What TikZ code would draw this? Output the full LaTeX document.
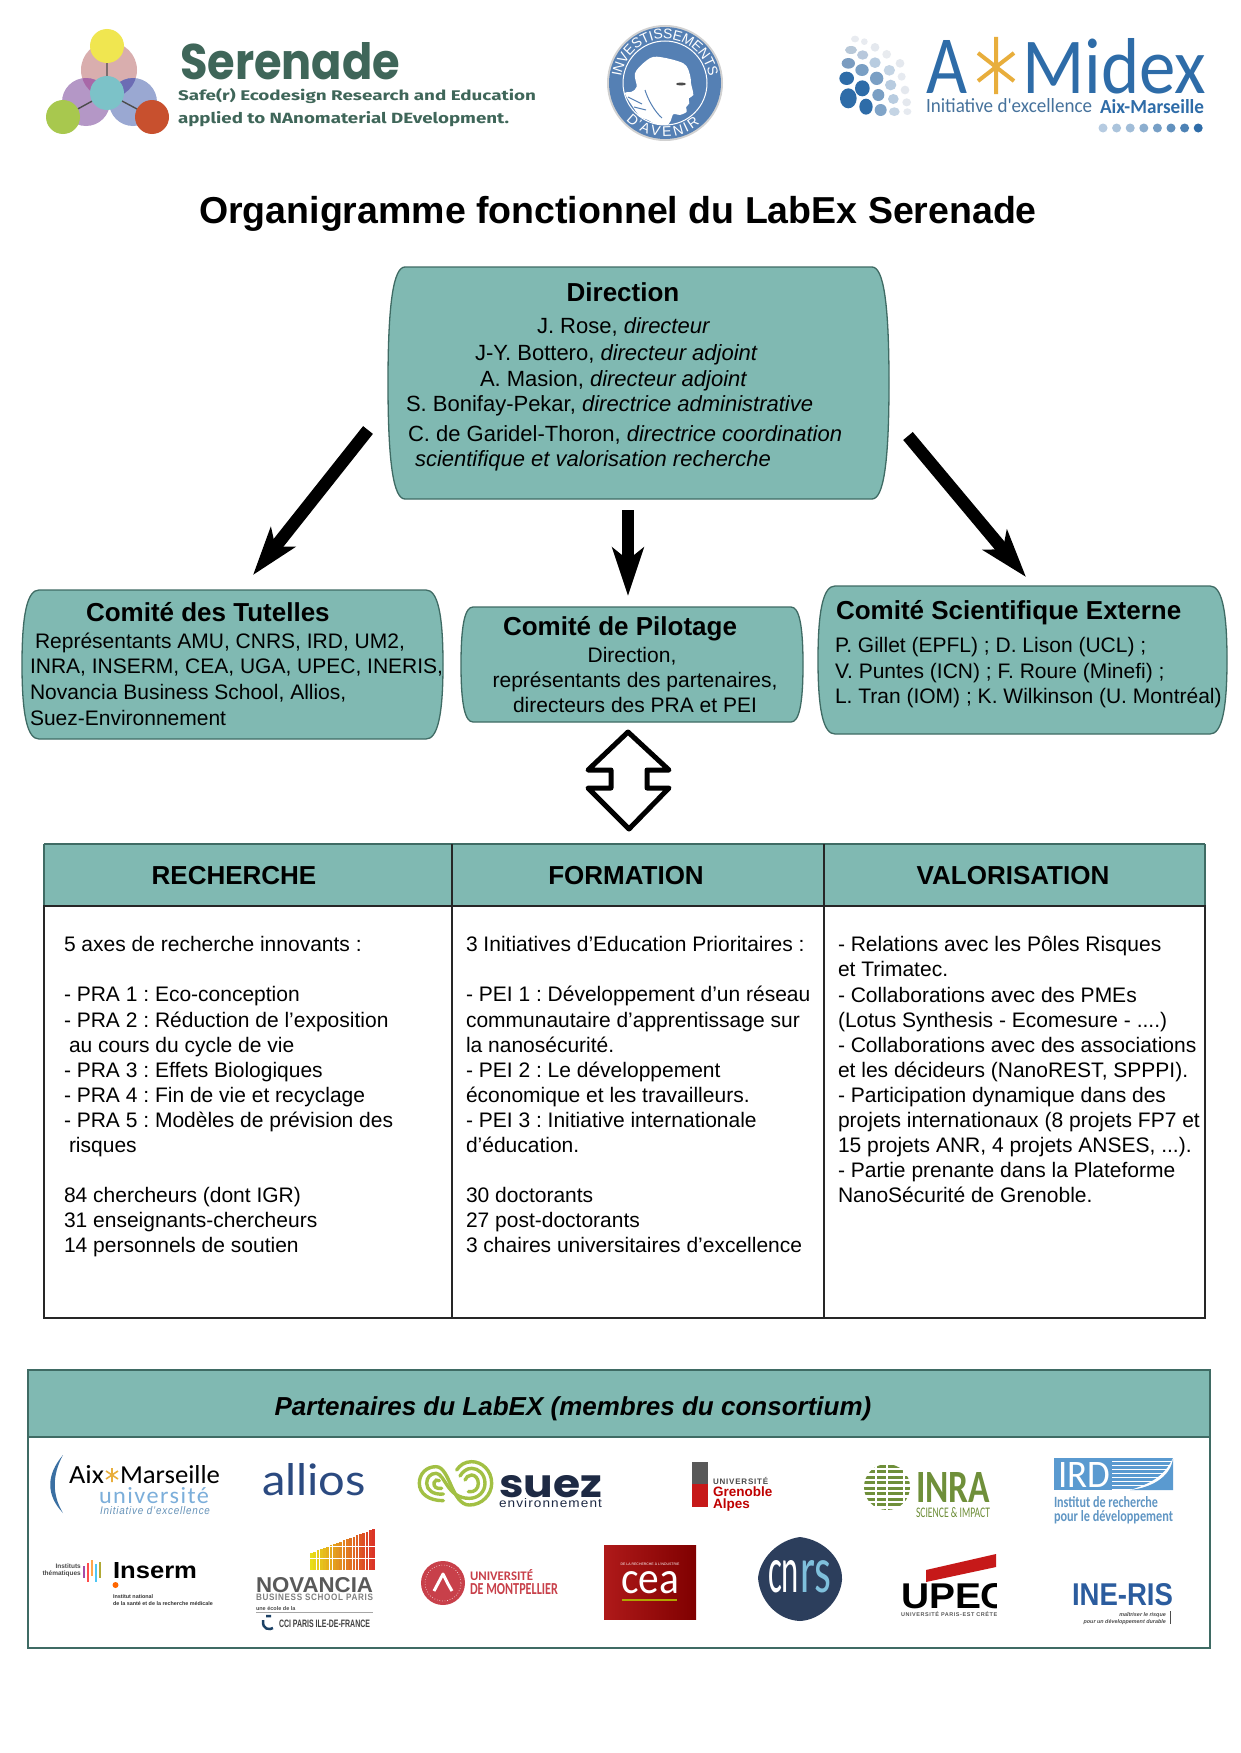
\documentclass[tikz,border=0pt]{standalone}
\usepackage{fontspec}
\usepackage{graphicx}
\setmainfont{Liberation Sans}
\newfontfamily\lato{Lato}
\newfontfamily\carl{Carlito}
\newfontfamily\pop{Poppins}
\newfontfamily\fira{Fira Sans}
\usetikzlibrary{arrows.meta,calc}
\AtBeginDocument{\frenchspacing}
\definecolor{teal1}{HTML}{80B9B2}
\definecolor{tealline}{HTML}{3F6B64}
\definecolor{seren}{HTML}{3F6659}
\definecolor{amblue}{HTML}{2E6CA8}
\definecolor{marblue}{HTML}{5580B4}
\definecolor{inragreen}{HTML}{6F8F3A}
\definecolor{suezgreen}{HTML}{A2C044}
\definecolor{navy}{HTML}{1E2A44}
\definecolor{irdblue}{HTML}{5A9AD0}
\definecolor{sy}{HTML}{F0E650}
\definecolor{sp}{HTML}{D9AEAE}
\definecolor{sv}{HTML}{B497C6}
\definecolor{sb}{HTML}{9AA8D2}
\definecolor{st}{HTML}{7CC2C8}
\definecolor{sg}{HTML}{A8C84E}
\definecolor{sr}{HTML}{C8502E}
\definecolor{spv}{HTML}{A868A8}
\definecolor{spb}{HTML}{6C6CB4}
\definecolor{svb}{HTML}{7C66B4}
\definecolor{umred}{HTML}{C8404A}
\definecolor{cnrsbg}{HTML}{2C3E5C}
\definecolor{cnrsrs}{HTML}{7FC0DC}
\definecolor{inblue}{HTML}{2B5C9E}
\definecolor{alblue}{HTML}{2B4A80}
\definecolor{staror}{HTML}{E8AE3C}
\newcommand\fsz[1]{\fontsize{#1}{#1}\selectfont}
\newcommand\fitb[3]{\resizebox{#1pt}{#2pt}{#3}}
\newcommand\bubble[6]{% name x1 y1 x2 y2 corner
  \draw[bubblebox] ({#2+#6},#3) -- ({#4-#6},#3)
    .. controls ({#4-#6/3},#3) and (#4,{#3+(#5-#3)*.15}) .. (#4,{(#3+#5)/2})
    .. controls (#4,{#5-(#5-#3)*.15}) and ({#4-#6/3},#5) .. ({#4-#6},#5)
    -- ({#2+#6},#5)
    .. controls ({#2+#6/3},#5) and (#2,{#5-(#5-#3)*.15}) .. (#2,{(#3+#5)/2})
    .. controls (#2,{#3+(#5-#3)*.15}) and ({#2+#6/3},#3) .. ({#2+#6},#3) -- cycle;
}
\tikzset{
  bubblebox/.style={draw=tealline,line width=1.3pt,fill=teal1},
  txt/.style={inner sep=0pt,outer sep=0pt,anchor=base west,font=\fsz{21}},
  dtxt/.style={inner sep=0pt,outer sep=0pt,anchor=base west,font=\fsz{22}},
  ctr/.style={inner sep=0pt,outer sep=0pt,anchor=base,font=\fsz{21}},
  ttl/.style={inner sep=0pt,outer sep=0pt,anchor=base west,font=\fsz{26}\bfseries},
  hdr/.style={inner sep=0pt,outer sep=0pt,anchor=base,font=\fsz{26}\bfseries},
  coltext/.style={inner sep=0pt,outer sep=0pt,anchor=north west,align=left,font=\fontsize{21}{25.1}\selectfont},
  bigarrow/.style={line width=12.5pt,-{Stealth[length=48pt,width=31pt,inset=12pt]}},
  lb/.style={inner sep=0pt,outer sep=0pt,anchor=base west},
  arcletter/.style={inner sep=0pt,outer sep=0pt,text=white,font=\fsz{14}},
}
\begin{document}
\begin{tikzpicture}[x=1pt,y=-1pt]
\useasboundingbox[fill=white] (0,0) rectangle (1240,1753);

%%% Serenade logo
\fill[sp] (109,70) circle (28);
\fill[sv] (86,102) circle (24);
\fill[sb] (133,102) circle (24);
\begin{scope}\clip (109,70) circle (28); \fill[spv] (86,102) circle (24); \fill[spb] (133,102) circle (24);\end{scope}
\begin{scope}\clip (86,102) circle (24); \fill[svb] (133,102) circle (24);\end{scope}
\coordinate (slc) at (107,93);
\coordinate (sly) at (107,46);
\coordinate (slg) at (63,117);
\coordinate (slr) at (152,117);
\draw[line width=1.4pt,black!70] (slc)--(sly) (slc)--(slg) (slc)--(slr);
\fill[sy] (sly) circle (17);
\fill[st] (slc) circle (17);
\fill[sg] (slg) circle (17);
\fill[sr] (slr) circle (17);
\node[lb,text=seren] (sertitle) at (180,79) {\fitb{220}{37}{\pop\bfseries Serenade}};
\node[lb,text=seren] (sersub1) at (178,100) {\fitb{358}{12}{\fira\bfseries Safe(r) Ecodesign Research and Education}};
\node[lb,text=seren] (sersub2) at (178,123) {\fitb{331}{12}{\fira\bfseries applied to NAnomaterial DEvelopment.}};

%%% Investissements d'avenir
\coordinate (mc) at (665,83);
\fill[black!18] (mc) circle (58);
\fill[marblue] (mc) circle (56);
\draw[white,line width=1pt] (mc) circle (42);
\begin{scope}
\clip (mc) circle (42);
\fill[white] plot[smooth cycle,tension=.55] coordinates {(656.7,56.7) (683.3,63.3) (690,75) (691,83.3) (693.3,95) (688.7,98.3) (689.3,103.3) (686,107.3) (686.7,111.7) (680,115) (673.3,114.3) (670,122) (663,128) (648,120) (640,116.7) (631.7,105) (625,93.3) (631.7,91.7) (636.7,86.7) (635,73.3) (645,61.7)};
\draw[marblue,line width=1pt] (628,97) -- (642,104) (634,107) -- (646,110) (645,90) .. controls (648,100) and (655,112) .. (662,118);
\end{scope}
\fill[black!70] (681,84) ellipse (5 and 1.5);
\foreach \ch/\a [count=\n] in {I/169.6,N/160.8,V/148.7,E/137.1,S/125.4,T/114.3,I/106.5,S/98.2,S/86.6,E/75,M/61.9,E/48.8,N/36.6,T/25,S/13.9}{
  \node[arcletter,rotate=\a-90] (inv\n) at ({665+49*cos(\a)},{83-49*sin(\a)}) {\ch};
}
\foreach \ch/\a [count=\n] in {D/229,{'}/237.9,A/246.2,V/259.1,E/272.1,N/285.6,I/295.3,R/305}{
  \node[arcletter,rotate=\a+90] (ave\n) at ({665+49*cos(\a)},{83-49*sin(\a)}) {\ch};
}

%%% A*Midex
\foreach \zx/\zy/\rx/\ry/\col in {75/42/12/10/E8EBF0,103/50/10/10/E8EBF0,63/75/18/12/B8C8D8,98/90/17/14/B8C8DC,135/67/13/13/E4E8EE,170/88/13/13/E8EBEF,55/115/20/16/7B9CC0,96/135/20/18/7A9FC4,135/113/17/16/B8CCE0,178/136/17/16/C4D4E4,210/115/13/13/E4E8EE,215/155/12/12/E6EAF0,50/160/22/20/2E6CA8,97/190/22/24/2E6CA8,140/160/20/20/7A9FC4,182/180/17/16/B8CCE0,225/195/13/13/E4E8EE,55/220/25/30/2E6CA8,108/245/20/24/2E6CA8,145/210/18/18/7A9FC4,190/222/16/15/B8CCE0,230/232/13/12/E4E8EE,152/255/18/18/80A4C8,193/260/16/13/C4D4E4,232/260/12/10/E6EAF0}{
  \definecolor{dotc}{HTML}{\col}
  \fill[dotc] ({830+\zx/3},{25+\zy/3}) ellipse ({\rx/3} and {\ry/3});
}
\node[lb,text=amblue] (ama) at (926,93) {\fitb{41}{53}{\carl A}};
\draw[line width=4pt,staror] (996,37)--(996,94) (978,53)--(1014,81) (1014,53)--(978,81);
\node[lb,text=amblue] (amm) at (1022,93) {\fitb{184}{55}{\carl Midex}};
\node[lb,text=amblue!70!gray] (ami) at (926,113) {\fitb{166}{14}{\carl Initiative d'excellence}};
\node[lb,text=amblue] (amx) at (1100,113) {\fitb{104}{14}{\carl\bfseries Aix-Marseille}};
\foreach \i/\c in {0/35,1/40,2/45,3/55,4/65,5/75,6/85,7/100}{
  \fill[amblue!\c!white] ({1103+\i*13.6},128) circle (4.5);
}

%%% Title
\node[inner sep=0pt,anchor=base] (title) at (618,223) {\fsz{37.5}\bfseries Organigramme fonctionnel du LabEx Serenade};

%%% Direction box
\bubble{dir}{388}{267}{889}{499}{17}
\node[hdr] (dirt) at (623,301) {Direction};
\node[dtxt] (d1) at (537,333) {J. Rose, \emph{directeur}};
\node[dtxt] (d2) at (475,360) {J-Y. Bottero, \emph{directeur adjoint}};
\node[dtxt] (d3) at (480,386) {A. Masion, \emph{directeur adjoint}};
\node[dtxt] (d4) at (406,411) {S. Bonifay-Pekar, \emph{directrice administrative}};
\node[dtxt] (d5) at (408,441) {C. de Garidel-Thoron, \emph{directrice coordination}};
\node[dtxt] (d6) at (415,466) {\emph{scientifique et valorisation recherche}};

%%% Comité boxes
\bubble{tut}{22}{590}{443}{739}{17}
\node[ttl] (tutt) at (86,621) {Comité des Tutelles};
\node[txt] (t1) at (35,648) {Représentants AMU, CNRS, IRD, UM2,};
\node[txt] (t2) at (30,673) {INRA, INSERM, CEA, UGA, UPEC, INERIS,};
\node[txt] (t3) at (30,699) {Novancia Business School, Allios,};
\node[txt] (t4) at (30,725) {Suez-Environnement};

\bubble{pil}{461}{607}{803}{722}{12}
\node[ttl] (pilt) at (503,635) {Comité de Pilotage};
\node[ctr] (p1) at (632,662) {Direction,};
\node[ctr] (p2) at (635,687) {représentants des partenaires,};
\node[ctr] (p3) at (635,712) {directeurs des PRA et PEI};

\bubble{sci}{818}{586}{1227}{734}{17}
\node[ttl] (scit) at (836,619) {Comité Scientifique Externe};
\node[txt] (s1) at (835,652) {P. Gillet (EPFL) ; D. Lison (UCL) ;};
\node[txt] (s2) at (835,678) {V. Puntes (ICN) ; F. Roure (Minefi) ;};
\node[txt] (s3) at (835,703) {L. Tran (IOM) ; K. Wilkinson (U. Montréal)};

%%% Connectors
\coordinate (dirL) at (368,430);
\coordinate (tutA) at (253,575);
\coordinate (dirM) at (628,510);
\coordinate (pilA) at (628,596);
\coordinate (dirR) at (908,436);
\coordinate (sciA) at (1026,577);
\draw[bigarrow] (dirL) -- (tutA);
\draw[bigarrow] (dirM) -- (pilA);
\draw[bigarrow] (dirR) -- (sciA);

%%% double hollow arrow
\draw[line width=5pt,line join=round,fill=white] (628,732) -- (669,770) -- (647,770) -- (647,788) -- (669,788) -- (629,829) -- (588,788) -- (611,788) -- (611,770) -- (588,770) -- cycle;

%%% Table
\fill[teal1] (44,844) rectangle (1205,906);
\draw[line width=2pt,tealline] (44,844) -- (1205,844);
\draw[line width=2pt,tealline] (44,844) -- (44,906) (1205,844) -- (1205,906);
\draw[line width=2pt,black!85] (44,906) rectangle (1205,1318);
\draw[line width=2pt,black!85] (44,906) -- (1205,906);
\draw[line width=2pt,black!85] (452,844) -- (452,1318) (824,844) -- (824,1318);
\node[hdr] (h1) at (234,884) {RECHERCHE};
\node[hdr] (h2) at (626,884) {FORMATION};
\node[hdr] (h3) at (1013,884) {VALORISATION};
\node[coltext] (c1) at (64,936.5) {5 axes de recherche innovants :\\~\\- PRA 1 : Eco-conception\\- PRA 2 : Réduction de l’exposition\\\hspace*{5pt}au cours du cycle de vie\\- PRA 3 : Effets Biologiques\\- PRA 4 : Fin de vie et recyclage\\- PRA 5 : Modèles de prévision des\\\hspace*{5pt}risques\\~\\84 chercheurs (dont IGR)\\31 enseignants-chercheurs\\14 personnels de soutien};
\node[coltext] (c2) at (466,936.5) {3 Initiatives d’Education Prioritaires :\\~\\- PEI 1 : Développement d’un réseau\\communautaire d’apprentissage sur\\la nanosécurité.\\- PEI 2 : Le développement\\économique et les travailleurs.\\- PEI 3 : Initiative internationale\\d’éducation.\\~\\30 doctorants\\27 post-doctorants\\3 chaires universitaires d’excellence};
\node[coltext] (c3) at (838,936.5) {- Relations avec les Pôles Risques\\et Trimatec.\\- Collaborations avec des PMEs\\(Lotus Synthesis - Ecomesure - ....)\\- Collaborations avec des associations\\et les décideurs (NanoREST, SPPPI).\\- Participation dynamique dans des\\projets internationaux (8 projets FP7 et\\15 projets ANR, 4 projets ANSES, ...).\\- Partie prenante dans la Plateforme\\NanoSécurité de Grenoble.};

%%% Partners
\fill[teal1] (28,1370) rectangle (1210,1437);
\draw[line width=2pt,tealline] (28,1370) rectangle (1210,1648);
\draw[line width=2pt,tealline] (28,1437) -- (1210,1437);
\node[inner sep=0pt,anchor=base] (parth) at (573,1415) {\fsz{26}\bfseries\itshape Partenaires du LabEX (membres du consortium)};

% Aix-Marseille
\fill[amblue!85!gray] (63,1455) .. controls (46,1475) and (46,1495) .. (63,1513) .. controls (52,1495) and (52,1475) .. (63,1455) -- cycle;
\node[lb] (amu1) at (69,1483) {\fitb{35}{18}{\carl Aix}};
\draw[line width=1.6pt,staror] (112,1468) -- (112,1482) (106,1471) -- (118,1479) (118,1471) -- (106,1479);
\node[lb] (amu3) at (120,1483) {\fitb{100}{18}{\carl Marseille}};
\node[lb,text=irdblue!80!white] (amu4) at (99,1503) {\fitb{110}{16}{\carl\addfontfeature{LetterSpace=6} université}};
\node[lb,text=irdblue!70!gray] (amu5) at (100,1514) {\fitb{110}{8}{\itshape\addfontfeature{LetterSpace=8}Initiative d'excellence}};
% allios
\node[lb,text=alblue] (allios) at (262,1495) {\fitb{104}{32}{\lato allios}};
% suez
\begin{scope}[shift={(410,1450)},x=.3333pt,y=-.3333pt,line width=3.4pt,suezgreen,line cap=round]
\draw (100,152) .. controls (55,152) and (28,130) .. (28,100) .. controls (28,70) and (50,50) .. (78,50) .. controls (120,50) and (125,165) .. (178,165) .. controls (215,165) and (245,135) .. (245,100) .. controls (245,60) and (215,35) .. (185,35) .. controls (165,35) and (150,45) .. (140,60);
\draw (100,132) .. controls (70,135) and (50,120) .. (50,100) .. controls (50,82) and (62,70) .. (78,70) .. controls (105,70) and (110,145) .. (178,145) .. controls (205,145) and (225,125) .. (225,100) .. controls (225,72) and (205,55) .. (185,55) .. controls (170,55) and (158,65) .. (150,78);
\draw (95,115) .. controls (80,118) and (70,110) .. (72,98) .. controls (74,90) and (82,88) .. (88,92);
\draw (175,125) .. controls (195,128) and (205,115) .. (205,100) .. controls (205,85) and (195,75) .. (185,75) .. controls (175,75) and (168,82) .. (165,90);
\end{scope}
\node[lb,text=navy] (suez) at (499,1497) {\fitb{103}{22}{\pop\bfseries suez}};
\node[lb,text=navy] (suezb) at (499,1507) {\fitb{103}{9}{\addfontfeature{LetterSpace=8}environnement}};
% Grenoble
\fill[black!65] (692,1462) rectangle (708,1484);
\fill[red!75!black!90] (692,1484) rectangle (708,1507);
\node[lb,text=black!70] (uga1) at (713,1484) {\fsz{8}\bfseries\addfontfeature{LetterSpace=10}UNIVERSITÉ};
\node[lb,text=red!75!black] (uga2) at (713,1496) {\fsz{13.5}\bfseries Grenoble};
\node[lb,text=red!75!black] (uga3) at (713,1508) {\fsz{13.5}\bfseries Alpes};
% INRA
\begin{scope}
\clip (887,1487) circle (23);
\foreach \yy in {1466,1471.5,...,1510}{
  \draw[inragreen,line width=3pt,dash pattern=on 13pt off 2pt on 9pt off 2pt on 15pt off 2pt] (862,\yy) -- (912,\yy);
}
\end{scope}
\node[lb,text=inragreen] (inra) at (916,1502) {\fitb{74}{30}{\carl\bfseries INRA}};
\node[lb,text=inragreen] (inrab) at (916,1517) {\fitb{74}{10}{\carl SCIENCE \& IMPACT}};
% IRD
\fill[irdblue] (1054,1458) -- (1173,1458) -- (1173,1490) -- (1054,1490) -- cycle;
\foreach \yy in {1461,1465,...,1489}{\draw[white,line width=.8pt] (1112,\yy) -- (1172,\yy);}
\fill[white] (1173,1458) .. controls (1165,1476) and (1150,1484) .. (1130,1490) -- (1173,1490) -- cycle;
\fill[irdblue] (1173,1459) .. controls (1170,1478) and (1150,1488) .. (1130,1490) -- (1173,1490) -- cycle;
\node[lb,text=white] (ird) at (1058,1487) {\fitb{52}{25}{\carl IRD}};
\node[lb,text=irdblue!85!gray] (ird1) at (1054,1507) {\fitb{104}{11}{\bfseries\carl Institut de recherche}};
\node[lb,text=irdblue!85!gray] (ird2) at (1054,1521) {\fitb{119}{11}{\bfseries\carl pour le développement}};
% Inserm
\node[inner sep=0pt,anchor=base east,font=\fsz{6.5}\bfseries,text=black!70] (ins1) at (81,1568) {Instituts};
\node[inner sep=0pt,anchor=base east,font=\fsz{6.5}\bfseries,text=black!70] (ins2) at (81,1575) {thématiques};
\foreach \xx/\yt/\yb/\cc in {84/1566/1578/violet,88/1563/1582/red,92/1560/1576/orange,96/1564/1582/cyan,100/1562/1578/olive}{
  \draw[\cc!70!white,line width=2pt] (\xx,\yt) -- (\xx,\yb);
}
\node[lb] (ins3) at (113,1578) {\fitb{84}{16}{\bfseries Inserm}};
\fill[orange!80!red] (115.5,1585) circle (3);
\node[lb,font=\fsz{5.4}\bfseries,text=black!80] (ins4) at (113,1598) {Institut national};
\node[lb,font=\fsz{5.4}\bfseries,text=black!80] (ins5) at (113,1605) {de la santé et de la recherche médicale};
% Novancia
\foreach \i in {0,...,19}{
  \pgfmathsetmacro{\hh}{17+24*\i/19}
  \pgfmathsetmacro{\rr}{100-5*\i}
  \fill[yellow!\rr!red!90!black] ({310+\i*3.27},1570) rectangle ++(2.7,{-\hh});
}
\foreach \yy in {1546,1558}{\draw[white,line width=1pt] (308,\yy) -- (376,\yy);}
\node[lb,text=black!65] (nov) at (256,1592) {\fitb{117}{15}{\bfseries NOVANCIA}};
\node[lb,text=black!50] (nov2) at (256,1600) {\fitb{117}{6.5}{\bfseries\addfontfeature{LetterSpace=8}BUSINESS SCHOOL PARIS}};
\node[lb,font=\fsz{5.5}\bfseries,text=black!70] (nov3) at (256,1610) {une école de la};
\draw[black!35,line width=.8pt] (256,1612) -- (373,1612);
\draw[amblue!60!black,line width=2.5pt] (266,1616) -- (271,1616) (263,1620) .. controls (262,1630) and (270,1630) .. (273,1628);
\node[lb,text=black!75] (nov4) at (279,1627) {\fitb{91}{7.5}{\bfseries CCI PARIS ILE-DE-FRANCE}};
% Montpellier
\fill[umred] (443,1583) circle (22);
\draw[white,line width=.6pt,dotted] (443,1583) circle (18);
\draw[white,line width=3pt,line join=round] (434,1591) -- (443,1574) -- (448,1584) -- (452,1591);
\node[lb,text=umred] (um1) at (470,1580) {\fitb{63}{11}{\carl\bfseries UNIVERSITÉ}};
\node[lb,text=umred] (um2) at (470,1594) {\fitb{88}{11}{\carl\bfseries DE MONTPELLIER}};
% CEA
\shade[left color=red!65!black!90,right color=red!50!black] (604,1545) rectangle (696,1619);
\node[inner sep=0pt,anchor=base,font=\fsz{3.5},text=white] (cea0) at (650,1565) {DE LA RECHERCHE À L'INDUSTRIE};
\node[inner sep=0pt,anchor=base,text=white] (cea) at (650,1593) {\fitb{58}{22}{\carl cea}};
\draw[olive!70!yellow,line width=2pt] (622,1600) -- (677,1600);
% CNRS
\fill[cnrsbg] (800,1537) .. controls (825,1540) and (843,1560) .. (842,1580) .. controls (840,1602) and (820,1620) .. (800,1621) .. controls (778,1620) and (760,1602) .. (758,1578) .. controls (760,1558) and (778,1540) .. (800,1537) -- cycle;
\node[lb,text=white] (cnrs1) at (768,1592) {\fitb{31}{32}{\carl cn}};
\node[lb,text=cnrsrs] (cnrs2) at (800,1592) {\fitb{31}{32}{\carl rs}};
% UPEC
\fill[red!75!black!90] (926,1570) -- (996,1554) -- (996,1567) -- (926,1582) -- cycle;
\begin{scope}
\clip (890,1575) rectangle (996,1620);
\node[lb] (upec) at (901,1608) {\fitb{108}{25}{\bfseries UPEC}};
\node[lb,font=\fsz{5.5}\bfseries,text=black!65] (upec2) at (901,1616) {\addfontfeature{LetterSpace=10}UNIVERSITÉ PARIS-EST CRÉTEIL};
\end{scope}
% INERIS
\node[lb,text=inblue] (ine) at (1072,1605) {\fitb{101}{22}{\bfseries INE-RIS}};
\node[inner sep=0pt,anchor=base east,font=\fsz{5.4}\bfseries\itshape,text=black!70] (ine1) at (1166,1616) {maîtriser le risque};
\node[inner sep=0pt,anchor=base east,font=\fsz{5.4}\bfseries\itshape,text=black!70] (ine2) at (1166,1623) {pour un développement durable};
\draw[black!70,line width=.8pt] (1170,1611) -- (1170,1624);
\end{tikzpicture}
\end{document}
